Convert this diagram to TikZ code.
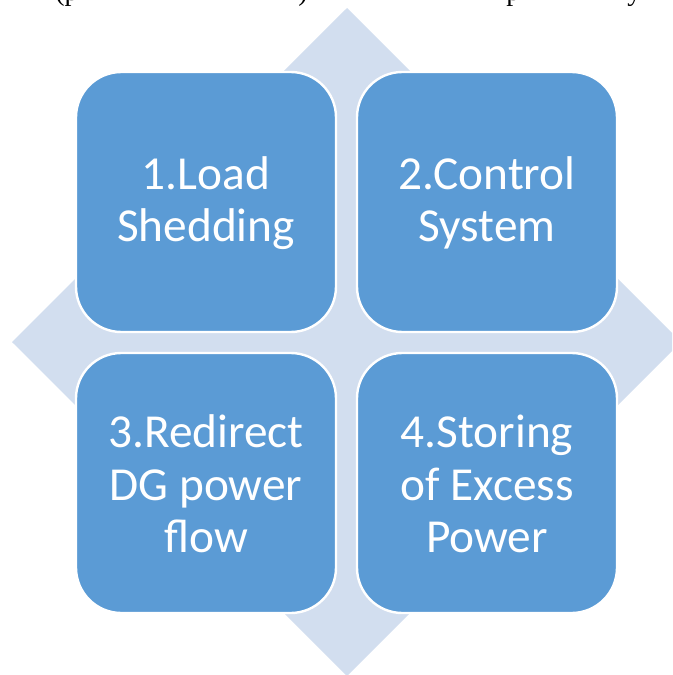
\documentclass[tikz,border=0pt]{standalone}
\usepackage{fontspec}
\setmainfont{Carlito}
\newfontfamily\serifline{Liberation Serif}
\definecolor{tileblue}{HTML}{5B9BD5}
\definecolor{diamondbg}{HTML}{D2DEEF}
\begin{document}
\begin{tikzpicture}[x=0.75pt,y=-0.75pt,
  tile/.style={fill=tileblue,draw=white,line width=1.8pt,rounded corners=34pt},
  tiletext/.style={text=white,align=center,font=\fontsize{35.5}{39.5}\selectfont}]
\useasboundingbox (0,0) rectangle (672,675);
\clip (0,0) rectangle (672,675);
% line of body text above the figure (only the descenders fall inside)
\begin{scope}[font=\serifline\fontsize{21}{25}\selectfont]
  \node[anchor=base west,inner sep=0pt] (t1) at (55,0) {(p};
  \node[anchor=base west,inner sep=0pt] (t2) at (298,0) {)};
  \node[anchor=base west,inner sep=0pt] (t3) at (506,0) {p};
  \node[anchor=base west,inner sep=0pt] (t4) at (627,0) {y};
\end{scope}
% background diamond
\fill[diamondbg] (347,8) -- (681,342) -- (347,676) -- (12,342) -- cycle;
% the four tiles
\draw[tile] (76,72) rectangle (336,332);
\draw[tile] (357,72) rectangle (617,332);
\draw[tile] (76,353) rectangle (336,613);
\draw[tile] (357,353) rectangle (617,613);
\node[tiletext] (n1) at (206,203) {1.Load\\Shedding};
\node[tiletext] (n2) at (487,203) {2.Control\\System};
\node[tiletext] (n3) at (206,484) {3.Redirect\\DG power\\flow};
\node[tiletext] (n4) at (487,484) {4.Storing\\of Excess\\Power};
\end{tikzpicture}
\end{document}
